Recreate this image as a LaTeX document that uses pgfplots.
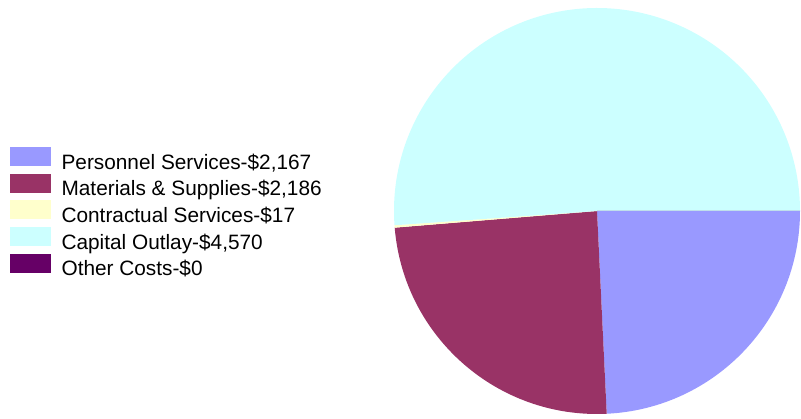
\documentclass[border=0pt]{standalone}
\usepackage{pgfplots}
\usepackage{pgfplotstable}
\pgfplotsset{compat=1.18}
\usepackage{fontspec}
\setmainfont{Liberation Sans}
\definecolor{cPers}{HTML}{9999FF}
\definecolor{cMat}{HTML}{993366}
\definecolor{cCon}{HTML}{FFFFCC}
\definecolor{cCap}{HTML}{CCFFFF}
\definecolor{cOth}{HTML}{660066}
\pgfplotstableread{
value
2167
2186
17
4570
0
}\piedata
\newcommand\slice[2]{%
  \fill[#2] (axis cs:597,204) -- ++(\csname sa#1\endcsname:203pt)
    arc[start angle=\csname sa#1\endcsname, end angle=\csname ea#1\endcsname, radius=203pt] -- cycle;}
\begin{document}
\begin{tikzpicture}
\gdef\total{0}
\foreach \i in {0,...,4}{%
  \pgfplotstablegetelem{\i}{value}\of\piedata
  \pgfmathparse{\total+\pgfplotsretval}\global\let\total\pgfmathresult
}
\gdef\cum{0}
\foreach \i in {0,...,4}{%
  \pgfplotstablegetelem{\i}{value}\of\piedata
  \pgfmathsetmacro\a{-360*(\cum/\total)}%
  \pgfmathparse{\cum+\pgfplotsretval}\global\let\cum\pgfmathresult
  \pgfmathsetmacro\b{-360*(\cum/\total)}%
  \expandafter\xdef\csname sa\i\endcsname{\a}%
  \expandafter\xdef\csname ea\i\endcsname{\b}%
}
\begin{axis}[
  x=1pt, y=1pt, xmin=0, xmax=801, ymin=0, ymax=415,
  scale only axis, hide axis, clip=false,
  legend cell align=left,
  legend image code/.code={\fill[#1] (0pt,-3pt) rectangle (40pt,15pt);},
  legend style={at={(axis cs:10,268)}, anchor=north west, draw=none, fill=none,
    inner sep=0pt, nodes={inner sep=0pt}, column sep=11pt, row sep=2.95pt,
    font=\fontsize{20.8}{24}\selectfont},
]
\path (axis cs:0,0) rectangle (axis cs:801,415);
\addlegendimage{cPers}\addlegendentry{Personnel Services-\$2,167}
\addlegendimage{cMat}\addlegendentry{Materials \& Supplies-\$2,186}
\addlegendimage{cCon}\addlegendentry{Contractual Services-\$17}
\addlegendimage{cCap}\addlegendentry{Capital Outlay-\$4,570}
\addlegendimage{cOth}\addlegendentry{Other Costs-\$0}
\slice{0}{cPers}
\slice{1}{cMat}
\slice{2}{cCon}
\slice{3}{cCap}
\slice{4}{cOth}
\end{axis}
\end{tikzpicture}
\end{document}
